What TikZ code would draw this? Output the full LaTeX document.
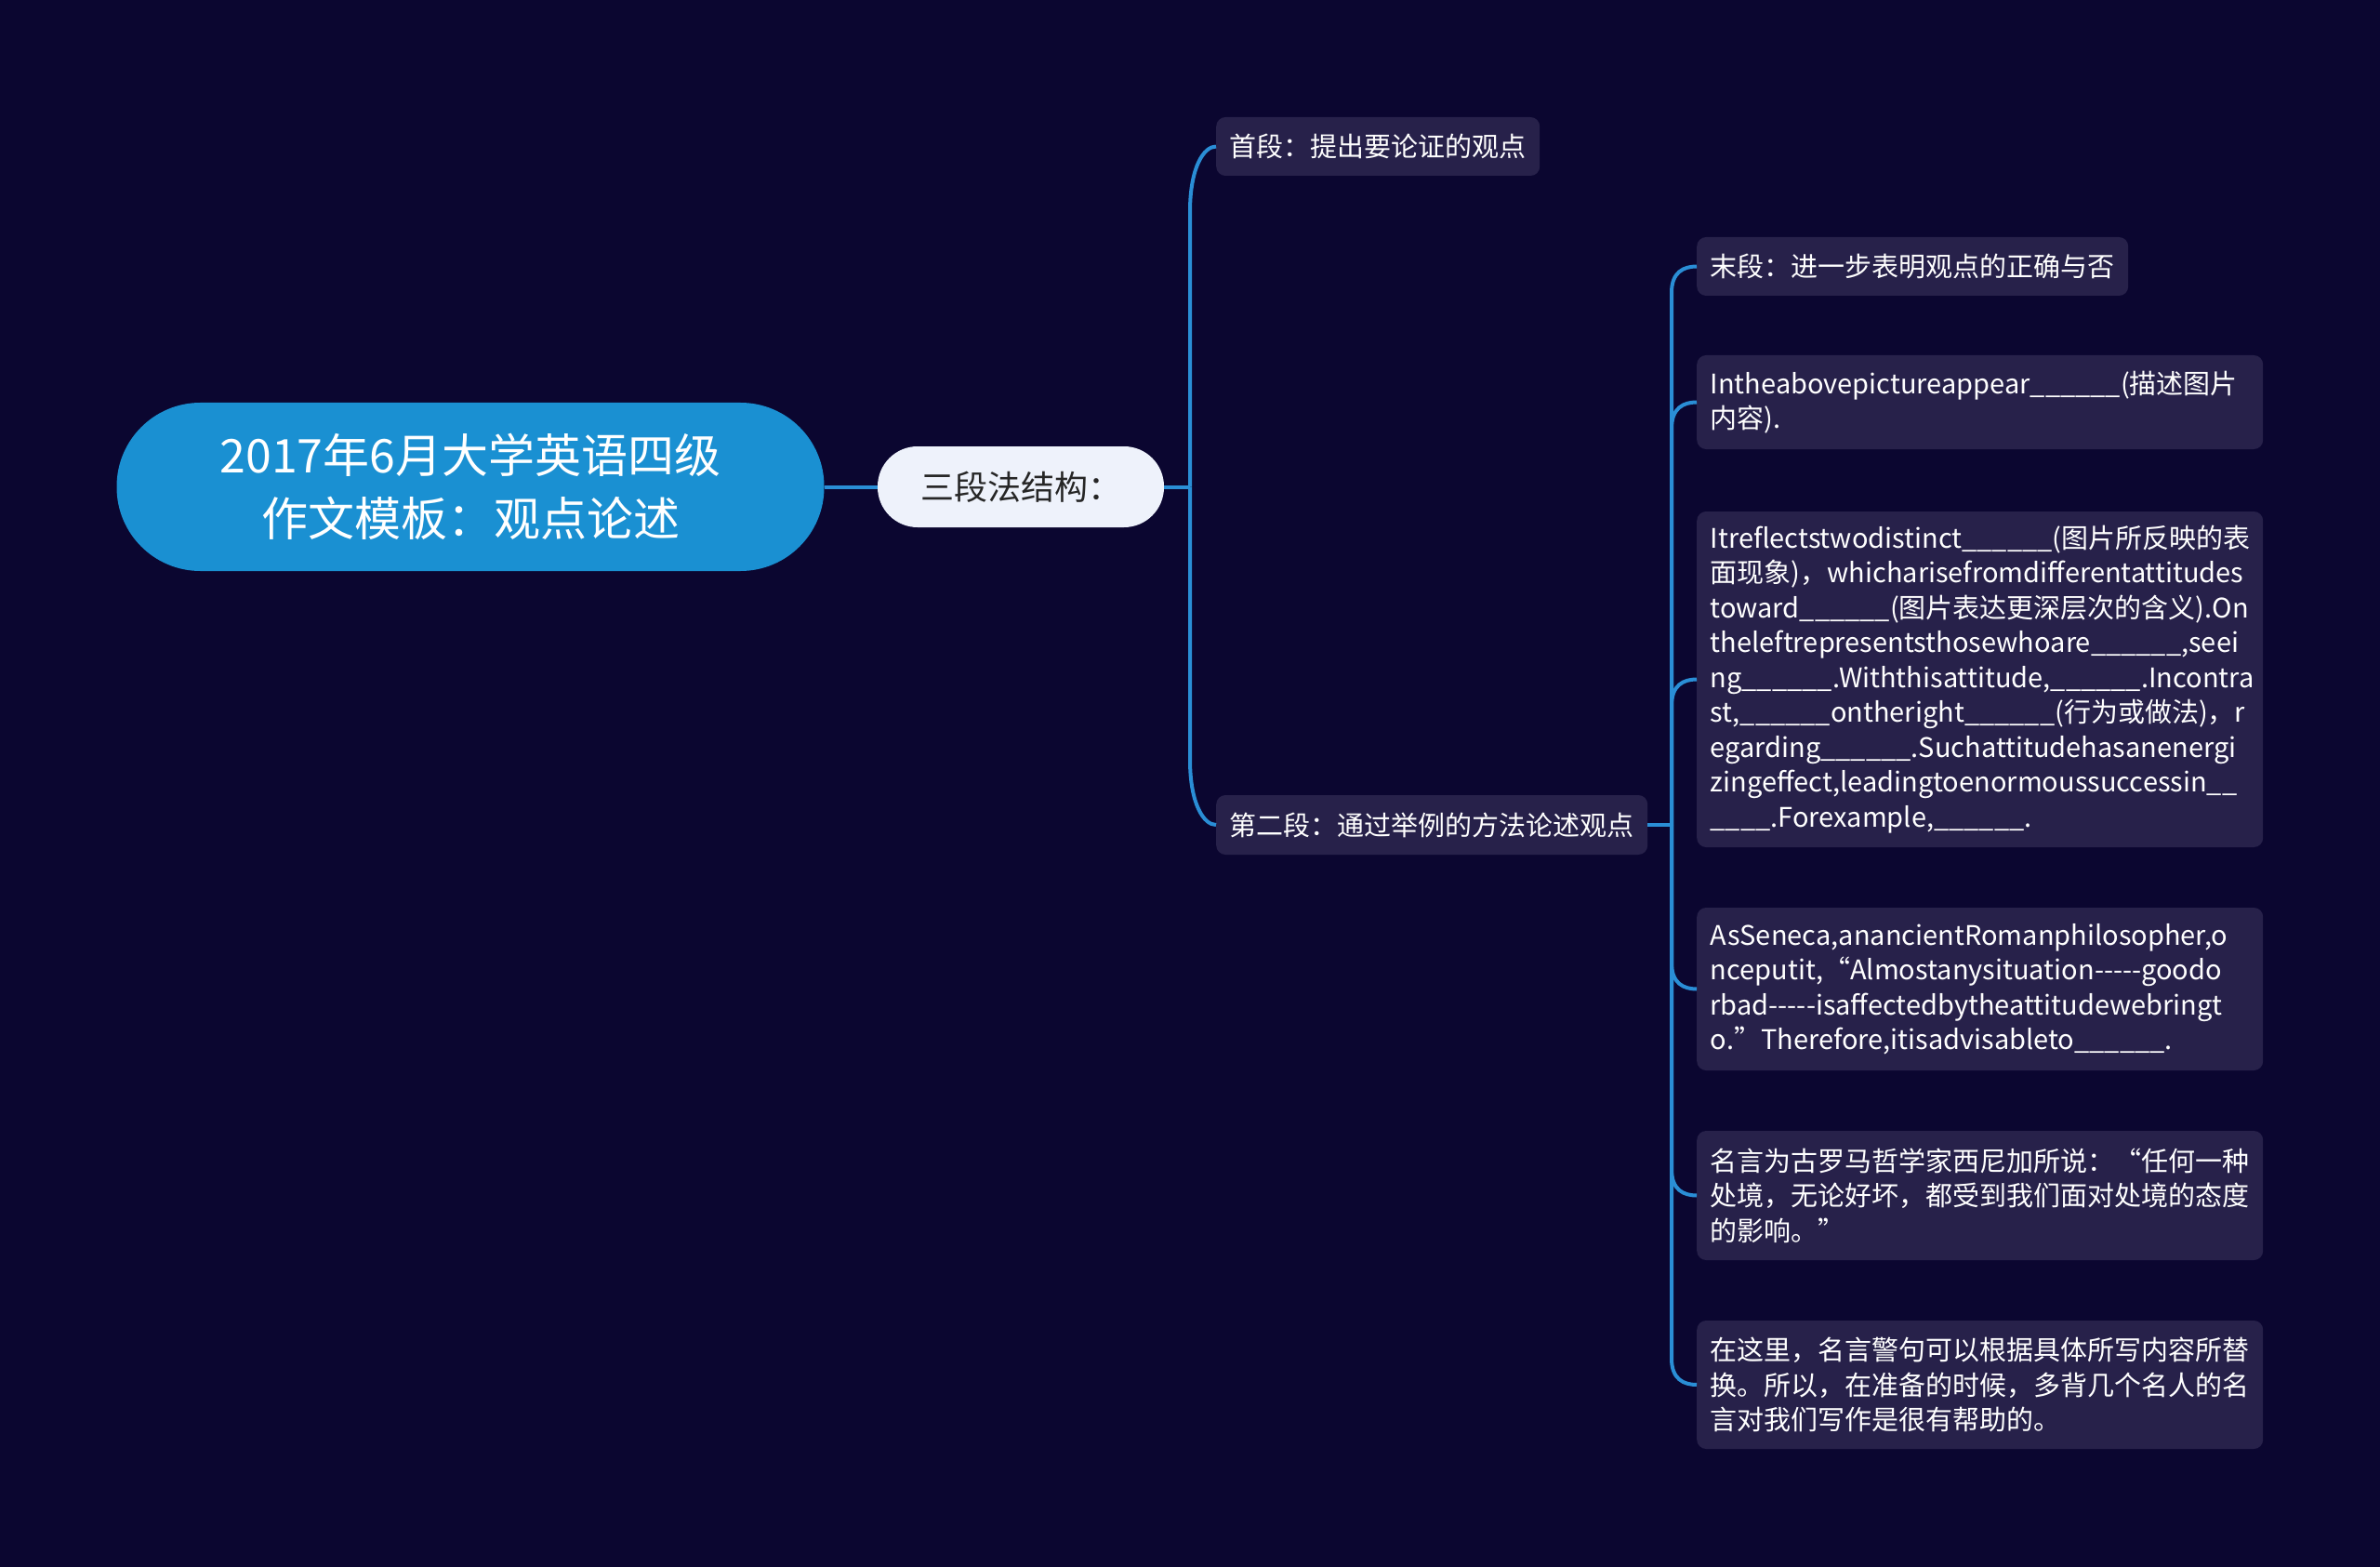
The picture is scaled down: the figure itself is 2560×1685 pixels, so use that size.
\documentclass[tikz,border=0pt]{standalone}
\usepackage{fontspec}
\setmainfont{Noto Sans CJK SC}
\definecolor{bgcol}{HTML}{0B0630}
\definecolor{rootcol}{HTML}{1A90D2}
\definecolor{linkcol}{HTML}{2A8ED6}
\definecolor{midcol}{HTML}{EEF2FB}
\definecolor{leafcol}{HTML}{27214A}
\newcommand\blank{\_\_\_\_\_\_}
\tikzset{
  link/.style={draw=linkcol, line width=4pt},
  rootbox/.style={fill=rootcol, text=white, rounded corners=90pt, minimum width=761pt,
    minimum height=181pt, align=center, font=\fontsize{50pt}{68pt}\selectfont},
  midbox/.style={fill=midcol, text=black!85, rounded corners=43pt, minimum width=308pt,
    minimum height=87pt, font=\fontsize{36pt}{42pt}\selectfont},
  leaf/.style={fill=leafcol, text=white, rounded corners=10pt, anchor=west,
    inner xsep=14.5pt, inner ysep=0pt, font=\fontsize{29pt}{37.5pt}\selectfont},
  notebox/.style={leaf, text width=580pt, align=left},
}
\begin{document}
\begin{tikzpicture}[x=1pt,y=-1pt]
  \fill[bgcol] (0,0) rectangle (2560,1685);
  \useasboundingbox (0,0) rectangle (2560,1685);

  \node[rootbox] at (506,523.5) (root) {2017年6月大学英语四级\\作文模板：观点论述};
  \node[midbox] at (1098,523.5) (mid) {三段法结构：};

  \node[leaf, minimum width=346pt, minimum height=63pt] at (1308,157.5) (first) {首段：提出要论证的观点};
  \node[leaf, minimum width=462pt, minimum height=64pt] at (1308,887) (second) {第二段：通过举例的方法论述观点};

  \node[leaf, minimum width=464pt, minimum height=63pt] at (1825,286.5) (last) {末段：进一步表明观点的正确与否};
  \node[notebox, minimum height=101pt] at (1825,432.5) (picture) {Intheabovepictureappear\blank(描述图片\\内容).};
  \node[notebox, minimum height=361pt] at (1825,730.5) (reflect) {Itreflectstwodistinct\blank(图片所反映的表\\
    面现象)，whicharisefromdifferentattitudes\\
    toward\blank(图片表达更深层次的含义).On\\
    theleftrepresentsthosewhoare\blank,seei\\
    ng\blank.Withthisattitude,\blank.Incontra\\
    st,\blank ontheright\blank(行为或做法)，r\\
    egarding\blank.Suchattitudehasanenergi\\
    zingeffect,leadingtoenormoussuccessin\_\_\\
    \_\_\_\_.Forexample,\blank.};
  \node[notebox, minimum height=175pt] at (1825,1063.5) (seneca) {AsSeneca,anancientRomanphilosopher,o\\
    nceputit,“Almostanysituation-{}-{}-{}-{}-goodo\\
    rbad-{}-{}-{}-{}-isaffectedbytheattitudewebringt\\
    o.”Therefore,itisadvisableto\blank.};
  \node[notebox, minimum height=139pt] at (1825,1285.5) (quote) {名言为古罗马哲学家西尼加所说：“任何一种\\
    处境，无论好坏，都受到我们面对处境的态度\\
    的影响。”};
  \node[notebox, minimum height=138pt] at (1825,1489) (tip) {在这里，名言警句可以根据具体所写内容所替\\
    换。所以，在准备的时候，多背几个名人的名\\
    言对我们写作是很有帮助的。};

  \coordinate (j1) at (1280,523.5);
  \coordinate (j2) at (1798,887);

  % root to the three paragraphs
  \draw[link] (root.east) -- (mid.west);
  \draw[link] (mid.east) -- (j1);
  \draw[link] (j1) -- ([xshift=-28pt,yshift=-70pt]first.west) .. controls ([xshift=-28pt,yshift=-22pt]first.west) and ([xshift=-13pt]first.west) .. (first.west);
  \draw[link] (j1) -- ([xshift=-28pt,yshift=70pt]second.west) .. controls ([xshift=-28pt,yshift=22pt]second.west) and ([xshift=-13pt]second.west) .. (second.west);

  % second paragraph children
  \draw[link] (second.east) -- (j2);
  \draw[link] (j2) -- ([xshift=-27pt,yshift=-28pt]last.west) .. controls ([xshift=-27pt,yshift=-6pt]last.west) and ([xshift=-14pt]last.west) .. (last.west);
  \draw[link] (j2) -- ([xshift=-27pt,yshift=-28pt]picture.west) .. controls ([xshift=-27pt,yshift=-6pt]picture.west) and ([xshift=-14pt]picture.west) .. (picture.west);
  \draw[link] (j2) -- ([xshift=-27pt,yshift=-28pt]reflect.west) .. controls ([xshift=-27pt,yshift=-6pt]reflect.west) and ([xshift=-14pt]reflect.west) .. (reflect.west);
  \draw[link] (j2) -- ([xshift=-27pt,yshift=28pt]seneca.west) .. controls ([xshift=-27pt,yshift=6pt]seneca.west) and ([xshift=-14pt]seneca.west) .. (seneca.west);
  \draw[link] (j2) -- ([xshift=-27pt,yshift=28pt]quote.west) .. controls ([xshift=-27pt,yshift=6pt]quote.west) and ([xshift=-14pt]quote.west) .. (quote.west);
  \draw[link] (j2) -- ([xshift=-27pt,yshift=28pt]tip.west) .. controls ([xshift=-27pt,yshift=6pt]tip.west) and ([xshift=-14pt]tip.west) .. (tip.west);
\end{tikzpicture}
\end{document}
